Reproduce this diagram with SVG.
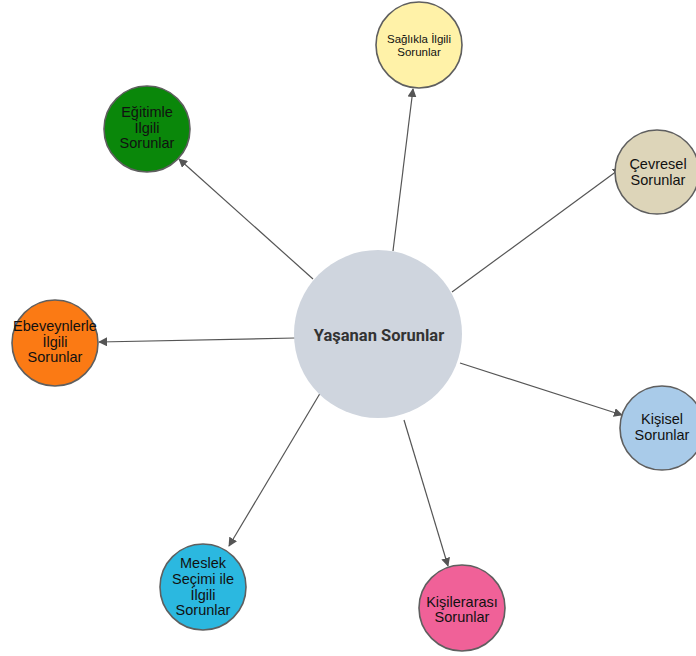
<svg xmlns="http://www.w3.org/2000/svg" width="696" height="656" viewBox="0 0 696 656">
  <style>
    .node { stroke: #5f5f5f; stroke-width: 1.6; }
    .lbl { font-family: "Liberation Sans", Arial, sans-serif; font-size: 14.5px; fill: #111; text-anchor: middle; }
    .small { font-size: 11.5px; }
    .hub { font-family: Roboto, "Liberation Sans", sans-serif; font-size: 16.5px; font-weight: bold; fill: #333; text-anchor: middle; }
    .edge { stroke: #555; stroke-width: 1.2; fill: none; marker-end: url(#arrow); }
  </style>
  <defs>
    <marker id="arrow" viewBox="0 0 10 10" refX="9" refY="5" markerWidth="9" markerHeight="9" orient="auto" markerUnits="userSpaceOnUse">
      <path d="M0,0 L10,5 L0,10 z" fill="#555"/>
    </marker>
  </defs>
  <rect width="696" height="656" fill="#fff"/>

  <g id="connectors">
    <line class="edge" x1="393" y1="251" x2="413" y2="89"/>
    <line class="edge" x1="313" y1="279" x2="179" y2="159"/>
    <line class="edge" x1="452" y1="292" x2="621" y2="168"/>
    <line class="edge" x1="295" y1="338" x2="99" y2="342"/>
    <line class="edge" x1="460" y1="363" x2="622" y2="415"/>
    <line class="edge" x1="328" y1="380" x2="229" y2="546"/>
    <line class="edge" x1="404" y1="420" x2="448" y2="566"/>
  </g>

  <g id="hub">
    <circle cx="378" cy="334" r="84" fill="#cfd5de"/>
    <text class="hub" x="379" y="341">Yaşanan Sorunlar</text>
  </g>

  <g id="saglik">
    <circle class="node" cx="419" cy="45" r="43" fill="#fff2a8"/>
    <text class="lbl small" x="419" y="43">Sağlıkla İlgili</text>
    <text class="lbl small" x="419" y="56">Sorunlar</text>
  </g>

  <g id="egitim">
    <circle class="node" cx="147" cy="129" r="43" fill="#0a870a"/>
    <text class="lbl" x="147" y="117">Eğitimle</text>
    <text class="lbl" x="147" y="133">İlgili</text>
    <text class="lbl" x="147" y="148">Sorunlar</text>
  </g>

  <g id="cevre">
    <circle class="node" cx="657" cy="172" r="42" fill="#ddd5b9"/>
    <text class="lbl" x="658" y="169">Çevresel</text>
    <text class="lbl" x="658" y="185">Sorunlar</text>
  </g>

  <g id="ebeveyn">
    <circle class="node" cx="55" cy="343" r="43" fill="#fb7a14"/>
    <text class="lbl" x="55" y="331">Ebeveynlerle</text>
    <text class="lbl" x="55" y="347">İlgili</text>
    <text class="lbl" x="55" y="362">Sorunlar</text>
  </g>

  <g id="kisisel">
    <circle class="node" cx="662" cy="428" r="42" fill="#a9cbe9"/>
    <text class="lbl" x="662" y="424">Kişisel</text>
    <text class="lbl" x="662" y="440">Sorunlar</text>
  </g>

  <g id="meslek">
    <circle class="node" cx="203" cy="587" r="43" fill="#2bb8e0"/>
    <text class="lbl" x="203" y="568">Meslek</text>
    <text class="lbl" x="203" y="584">Seçimi ile</text>
    <text class="lbl" x="203" y="600">İlgili</text>
    <text class="lbl" x="203" y="615">Sorunlar</text>
  </g>

  <g id="kisilerarasi">
    <circle class="node" cx="462" cy="608" r="43" fill="#f06198"/>
    <text class="lbl" x="462" y="607">Kişilerarası</text>
    <text class="lbl" x="462" y="622">Sorunlar</text>
  </g>
</svg>
